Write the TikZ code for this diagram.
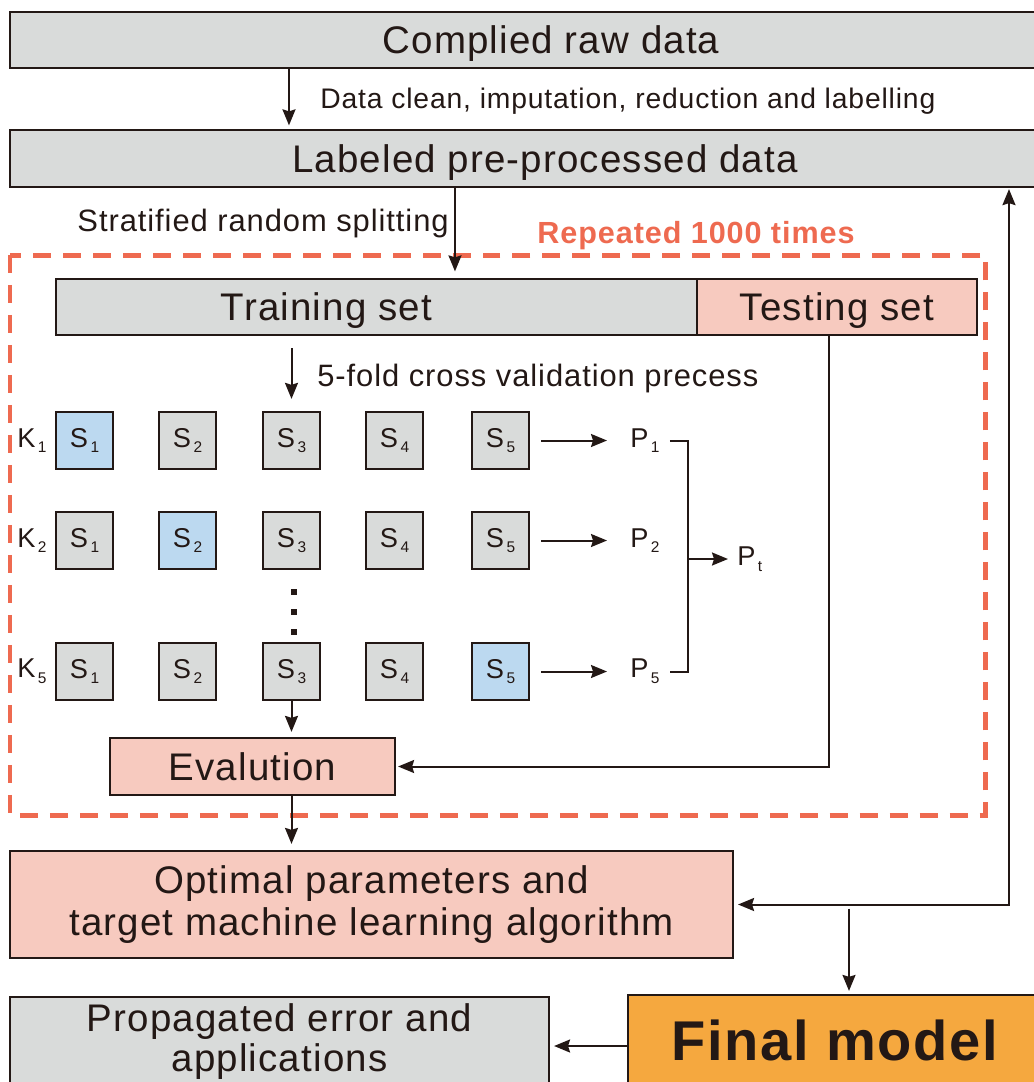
\documentclass[tikz,border=0pt]{standalone}
\usepackage{fontspec}
\setmainfont{Liberation Sans}[LetterSpace=3]
\usetikzlibrary{arrows.meta,positioning,calc}
\definecolor{ink}{HTML}{231815}
\definecolor{pale}{HTML}{D9DBDA}
\definecolor{rose}{HTML}{F7CABF}
\definecolor{ice}{HTML}{BCD9F0}
\definecolor{amber}{HTML}{F5A83F}
\definecolor{coral}{HTML}{EE6A50}
\newcommand{\sidx}[1]{\kern1.4pt\raisebox{-3.2pt}{\fontsize{8.8}{9}\selectfont#1}}

\begin{document}
\begin{tikzpicture}[x=0.02cm,y=-0.02cm,
   >={Stealth[length=0.32cm,width=0.26cm,inset=0.04cm]},
   box/.style={draw=ink,line width=0.045cm,inner sep=0pt,text=ink},
   grey/.style={box,fill=pale},
   pink/.style={box,fill=rose},
   cell/.style={box,fill=pale,minimum width=1.14cm,minimum height=1.14cm,font=\fontsize{15.5}{15}\selectfont},
   hot/.style={cell,fill=ice},
   big/.style={font=\fontsize{21.9}{22}\selectfont,text depth=0pt},
   note/.style={text=ink,inner sep=0pt,font=\fontsize{17.6}{18}\selectfont},
   sym/.style={text=ink,inner sep=0pt,font=\fontsize{15.5}{15}\selectfont},
   line/.style={draw=ink,line width=0.04cm},
   arr/.style={line,->}]
  \useasboundingbox (0,0) rectangle (1034,1082);

  % top of the flow
  \node[grey,big,minimum width=21.64cm,minimum height=1.12cm] (raw) at (551,40) {Complied raw data};
  \node[grey,big,minimum width=21.4cm,minimum height=1.14cm] (lab) at (545,158.5) {Labeled pre-processed data};
  \draw[arr,shorten >=2pt] ($(raw.south west)+(280,0)$) coordinate (a1) -- (a1 |- lab.north);
  \node[note,anchor=west,font=\fontsize{16.1}{16}\selectfont] (cleanlbl) at (320,101)
     {Data clean, imputation, reduction and labelling};

  % repeated split and cross validation
  \draw[coral,line width=0.1cm,dash pattern=on 0.36cm off 0.24cm] (10,255) rectangle (985,815);
  \node[text=coral,inner sep=0pt,font=\fontsize{17.4}{17}\selectfont\bfseries] (rep) at (696,236) {Repeated 1000 times};

  \node[grey,minimum width=12.82cm,minimum height=1.12cm,
        label={[big,text=ink,xshift=-1cm]center:Training set}] (train) at (376.5,307) {};
  \node[pink,big,minimum width=5.6cm,minimum height=1.12cm] (test) at (837,307) {Testing set};
  \draw[arr,shorten >=0.13cm] ($(lab.south west)+(446,0)$) coordinate (a2) -- (a2 |- train.north);
  \node[note,anchor=east] (stratlbl) at (449,224) {Stratified random splitting};

  \foreach \r/\k/\y in {1/1/440.5,2/2/540.5,3/5/671.5}{
    \foreach \c/\x in {1/84.5,2/187.5,3/291.5,4/394.5,5/500.5}{
      \ifnum\c=\k\relax\def\sty{hot}\else\def\sty{cell}\fi
      \node[\sty] (s\r\c) at (\x,\y) {S\sidx{\c}};
    }
    \node[sym,left=0.16cm of s\r1] (k\r) {K\sidx{\k}};
    \node[sym,anchor=west] (p\r) at (630,\y) {P\sidx{\k}};
    \draw[arr,shorten <=0.22cm,shorten >=0.46cm] (s\r5.east) -- (p\r.west);
  }
  \draw[arr,shorten <=0.24cm,shorten >=0.24cm] (s13.north |- train.south) -- (s13.north);
  \node[note,anchor=west] (foldlbl) at (317,378) {5-fold cross validation precess};
  \foreach \y in {592,612,632}
    \fill[ink] (294,\y) ++(-3,-3) rectangle ++(6,6);

  \draw[line] ($(p1.east)+(10,0)$) -- ++(18,0) coordinate (jt) |- ($(p3.east)+(10,0)$);
  \node[sym,anchor=west] (pt) at (737,559) {P\sidx{t}};
  \draw[arr,shorten >=0.18cm] (jt |- pt.west) -- (pt.west);

  \node[pink,big,minimum width=5.7cm,minimum height=1.14cm] (eval) at (252.5,766.5) {Evalution};
  \draw[arr,shorten >=0.1cm] (s33.south) -- (s33.south |- eval.north);
  \draw[arr,shorten >=0.04cm] ($(test.south)+(-8,0)$) |- (eval.east);

  % outcome
  \node[pink,align=center,minimum width=14.46cm,minimum height=2.14cm,
        font=\fontsize{21.9}{24}\selectfont] (opt) at (371.5,904.5)
     {Optimal parameters and\\target machine learning algorithm};
  \draw[arr,shorten >=0.12cm] (s33.south |- eval.south) -- (s33.south |- opt.north);
  \draw[line,<->,shorten <=0.02cm,shorten >=0.08cm] ($(lab.south west)+(1000,0)$) |- (opt.east);

  \node[box,fill=amber,minimum width=8.28cm,minimum height=1.8cm,text depth=0pt,
        font=\fontsize{31.9}{32}\selectfont\bfseries] (final) at (835,1040) {Final model};
  \node[grey,align=center,minimum width=10.78cm,minimum height=1.8cm,
        font=\fontsize{21.9}{22.8}\selectfont] (prop) at (279.5,1042) {Propagated error and\\applications};
  \coordinate (ftop) at ($(final.north)+(14,0)$);
  \draw[arr,shorten <=0.08cm,shorten >=0.06cm] (ftop |- opt.east) -- (ftop);
  \draw[arr,shorten >=0.08cm] ($(final.west)+(0,6)$) coordinate (a3) -- (a3 -| prop.east);
\end{tikzpicture}
\end{document}
